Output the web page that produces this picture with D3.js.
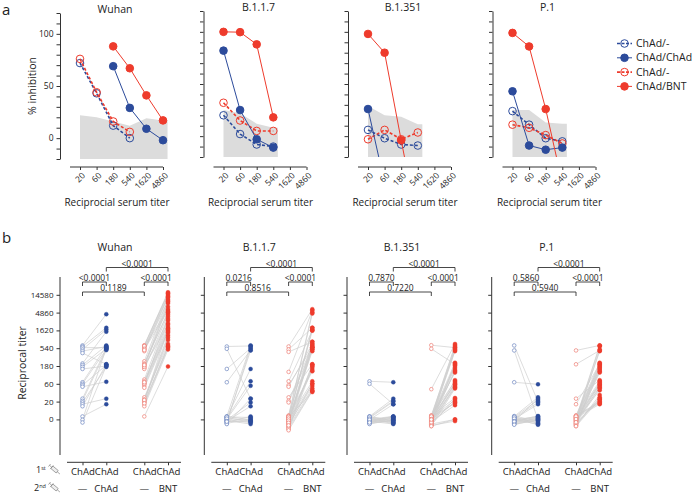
<!DOCTYPE html>
<html><head><meta charset="utf-8">
<script src="https://cdn.jsdelivr.net/npm/d3@7"></script>
<style>body{margin:0;background:#fff}svg text{font-family:'Open Sans',sans-serif;fill:#222}</style>
</head><body>
<svg id="c" width="692" height="495"></svg>
<script>
// ---------------- DATA ----------------
const variants = ["Wuhan","B.1.1.7","B.1.351","P.1"];
const aTiters = [20,60,180,540,1620,4860];
const aTitersLow = [20,60,180,540];
const aTitersHigh = [180,540,1620,4860];
const legendLabels = ["ChAd/-","ChAd/ChAd","ChAd/-","ChAd/BNT"];

// panel a: % inhibition
const aWuhanChAdBlue = [72,43,12,0];
const aWuhanChAdChAd = [69,29,9,-2];
const aWuhanChAdRed  = [76,44,16,6];
const aWuhanChAdBNT  = [88,67,41,17];
const aWuhanGray     = [22,20,16,12,19,17];

const aB117ChAdBlue = [20,2,-8,-10];
const aB117ChAdChAd = [82,25,-3,-11];
const aB117ChAdRed  = [32,15,5,5];
const aB117ChAdBNT  = [100,99.7,88,18];
const aB117Gray     = [25,22,12,8];

const aB1351ChAdBlue = [6,-2,-8,-9];
const aB1351ChAdChAd = [26,-45];
const aB1351ChAdRed  = [-3,6,-3,3.5];
const aB1351ChAdBNT  = [98,80,-4,-85];
const aB1351Gray     = [29,20,18.5,11.5];

const aP1ChAdBlue = [24,11,-2,-5];
const aP1ChAdChAd = [43,-9,-13,-11];
const aP1ChAdRed  = [11,8,1,-7];
const aP1ChAdBNT  = [99,86,26,-45];
const aP1Gray     = [25,25,13,12];

// panel b: reciprocal titers (values below 20 = below detection "0")
const bTickVals = [20/3,20,60,180,540,1620,4860,14580];
const bTickLabels = ["0","20","60","180","540","1620","4860","14580"];
const bGroups = ["ChAd-","ChAdChAd","ChAd-r","ChAdBNT"];

const bWuhanCC1 = [640,600,560,500,450,400,210,190,170,150,66,60,55,50,24,21,19,17,15,8,6.5,5.5];
const bWuhanCC2 = [4400,1900,560,1700,600,200,1500,640,520,180,600,500,190,68,540,480,170,24,200,17,560,180];
const bWuhanCB1 = [650,620,580,540,500,450,240,210,190,175,160,150,78,70,64,58,52,47,26,23,21,19,17,15,8,620,520,200,60,20,170,480,22,66,18,190];
const bWuhanCB2 = [17000,15500,6000,14000,5400,12500,11000,4860,9500,2300,8600,4300,3800,2000,1800,3300,1620,1400,700,1200,1050,620,560,500,175,16000,13000,5000,1500,1800,3000,10000,900,2500,600,7000];

const bB117CC1 = [600,520,150,66,8,7.6,7.2,6.8,6.4,6,5.6,5.2,8,7.4,6.6,6.2,5.4,5,7.8,7,6,5.8];
const bB117CC2 = [620,24,540,480,640,150,70,53,19,15,8,7,6.5,6,5.5,5,580,24,7.5,6.2,470,5.8];
const bB117CB1 = [600,500,430,125,70,55,50,26,21,19,8.5,8,7.6,7.2,6.8,6.4,6,5.6,5.2,4.8,4.4,4,3.6,8.2,7.4,6.6,5.8,5,4.2,3.8,7.8,7,6.2,5.4,4.6,3.4];
const bB117CB2 = [6000,1900,800,5500,1600,560,700,200,620,500,5000,4600,1750,1600,450,800,700,620,560,500,200,180,160,140,130,70,60,52,45,40,36,1900,560,180,60,38];

const bB1351CC1 = [70,60,8,7.6,7.2,6.8,6.4,6,5.6,5.2,8,7.4,6.6,6.2,5.4,5,7.8,7,6,5.8,6.5,5.5];
const bB1351CC2 = [66,17,24,21,20,8,7.6,7.2,6.8,6.4,6,5.6,5.2,8,7.4,6.6,6.2,5.4,5,7.8,17,6];
const bB1351CB1 = [650,520,43,8.5,8,7.6,7.2,6.8,6.4,6,5.6,5.2,4.8,4.4,8.2,7.4,6.6,5.8,5,4.6,7.8,7,6.2,5.4,8.4,7.2,6,4.8,7.6,6.4,5.2,8,6.8,5.6,4.4,6.6];
const bB1351CB2 = [560,200,700,600,500,220,190,160,130,75,65,55,50,45,25,22,19,16,6.67,6.0,650,550,180,140,70,60,48,24,18,450,210,120,58,20,6.67,480];

const bP1CC1 = [640,470,66,8,7.6,7.2,6.8,6.4,6,5.6,5.2,8.2,7.4,6.6,6.2,5.4,5,7.8,7,6,5.8,4.8];
const bP1CC2 = [20,6.5,58,26,22,19,17,8,7.5,7,6.5,6,5.5,5,8.2,7.2,6.2,5.2,4.8,24,7.8,6.8];
const bP1CB1 = [470,200,24,17,8.5,8,7.6,7.2,6.8,6.4,6,5.6,5.2,4.8,4.4,8.2,7.4,6.6,5.8,5,4.6,7.8,7,6.2,5.4,8.4,7.2,6,4.8,7.6,6.4,5.2,8,6.8,5.6,4.4];
const bP1CB2 = [640,470,75,200,220,190,170,150,130,65,58,50,45,26,23,20,17,600,500,180,140,70,55,48,24,19,640,210,160,60,40,22,18,450,120,30];

const pTop   = ["<0.0001","<0.0001","<0.0001","<0.0001"];
const pLeft  = ["<0.0001","0.0216","0.7870","0.5860"];
const pRight = ["<0.0001","<0.0001","<0.0001","<0.0001"];
const pLong  = ["0.1189","0.8516","0.7220","0.5940"];

// ---------------- DRAW ----------------
const svg = d3.select("#c");
const defs = svg.append("defs");
const BLUE="#2c4b9b", RED="#ee3b2c", BLUE_L="#6f86c0", RED_L="#ee7d72", GRAYA="#dcdcdc", AX="#333";

svg.append("text").attr("x",2).attr("y",15).attr("font-size",15).text("a");
svg.append("text").attr("x",2).attr("y",243).attr("font-size",15).text("b");

const aAxisX=[60,203.5,348,492.5], aDy=[0,-2,-2,-2];
const aSeriesAll = [
  [aWuhanChAdBlue,aWuhanChAdChAd,aWuhanChAdRed,aWuhanChAdBNT,aWuhanGray,true],
  [aB117ChAdBlue,aB117ChAdChAd,aB117ChAdRed,aB117ChAdBNT,aB117Gray,false],
  [aB1351ChAdBlue,aB1351ChAdChAd,aB1351ChAdRed,aB1351ChAdBNT,aB1351Gray,false],
  [aP1ChAdBlue,aP1ChAdChAd,aP1ChAdRed,aP1ChAdBNT,aP1Gray,false]
];

function styleAxis(g){
  g.selectAll("path,line").attr("stroke",AX).attr("stroke-width",1);
  g.selectAll("text").attr("fill","#222").style("font-family","'Open Sans',sans-serif");
}

aSeriesAll.forEach((s,i)=>{
  const [blueO,blueF,redO,redF,gray,wuhan]=s;
  const ax=aAxisX[i], dy=aDy[i];
  const g=svg.append("g");
  const y=d3.scaleLinear().domain([-20,120]).range([159+dy,13+dy]);
  const x=d3.scaleLog().base(3).domain([20,4860]).range([ax+20,ax+103]);
  defs.append("clipPath").attr("id","clipA"+i).append("rect")
    .attr("x",ax).attr("y",y(120)).attr("width",125).attr("height",y(-20)-y(120));
  const gT = (wuhan?aTiters:aTitersLow);
  const gd = gT.map((t,k)=>[t,gray[k]]);
  gd.push([gT[gT.length-1]*1.35, gray[gray.length-1]]);
  g.append("path").datum(gd).attr("fill",GRAYA)
    .attr("d",d3.area().x(d=>x(d[0])).y0(y(-20)).y1(d=>y(d[1])));
  const ya=g.append("g").attr("transform",`translate(${ax},0)`)
    .call(d3.axisLeft(y).tickValues(d3.range(-20,121,10))
      .tickFormat(d=>(i===0&&[0,50,100].includes(d))?d:"").tickSize(3.5).tickSizeOuter(0).tickPadding(3));
  ya.selectAll("text").attr("font-size",8.5);
  styleAxis(ya);
  const xa=g.append("g").attr("transform",`translate(0,167)`)
    .call(d3.axisBottom(x).tickValues(aTiters).tickFormat(d3.format("d")).tickSize(3).tickSizeOuter(0));
  xa.select(".domain").remove();
  xa.append("line").attr("x1",ax+10).attr("x2",x(4860));
  xa.selectAll("text").attr("text-anchor","end").attr("x",0).attr("y",0).attr("dy","0.35em")
    .attr("font-size",8.5).attr("transform","translate(3,7) rotate(-45)");
  styleAxis(xa);
  g.append("text").attr("x",ax+55).attr("y",13+dy).attr("text-anchor","middle").attr("font-size",10.5).text(variants[i]);
  g.append("text").attr("x",ax+57).attr("y",206).attr("text-anchor","middle").attr("font-size",10).text("Reciprocial serum titer");
  const pg=g.append("g").attr("clip-path",`url(#clipA${i})`);
  const specs=[
    [aTitersLow, blueO, BLUE, true],
    [aTitersLow, redO, RED, true],
    [wuhan?aTitersHigh:aTitersLow, blueF, BLUE, false],
    [wuhan?aTitersHigh:aTitersLow, redF, RED, false]
  ];
  const line=d3.line().x(d=>x(d[0])).y(d=>y(d[1]));
  specs.forEach(([ts,vs,col,open])=>{
    const d=vs.map((v,k)=>[ts[k],v]);
    pg.append("path").datum(d).attr("fill","none").attr("stroke",col)
      .attr("stroke-width",open?1.6:1).attr("stroke-dasharray",open?"3,2":null).attr("d",line);
    pg.selectAll(null).data(d).enter().append("circle")
      .attr("cx",p=>x(p[0])).attr("cy",p=>y(p[1])).attr("r",3.8)
      .attr("fill",open?"none":col).attr("stroke",col).attr("stroke-width",1);
  });
});
svg.append("text").attr("transform","translate(36,86) rotate(-90)").attr("text-anchor","middle")
  .attr("font-size",10.5).text("% inhibition");

const lgCols=[BLUE,BLUE,RED,RED], lgOpen=[true,false,true,false];
legendLabels.forEach((lab,k)=>{
  const yy=43.5+k*14.3;
  const lg=svg.append("g");
  lg.append("line").attr("x1",617).attr("x2",632).attr("y1",yy).attr("y2",yy).attr("stroke",lgCols[k])
    .attr("stroke-width",lgOpen[k]?1.6:1).attr("stroke-dasharray",lgOpen[k]?"3,1.5":null);
  lg.append("circle").attr("cx",624.5).attr("cy",yy).attr("r",3.8).attr("fill",lgOpen[k]?"none":lgCols[k]).attr("stroke",lgCols[k]);
  lg.append("text").attr("x",636).attr("y",yy).attr("dy","0.35em").attr("font-size",10.5).text(lab);
});

// ---------- panel b ----------
const bAxisX=[60,204.3,347,491.7];
const colOff=[22.5,46.3,84.3,108];
const bData=[
  [bWuhanCC1,bWuhanCC2,bWuhanCB1,bWuhanCB2],
  [bB117CC1,bB117CC2,bB117CB1,bB117CB2],
  [bB1351CC1,bB1351CC2,bB1351CB1,bB1351CB2],
  [bP1CC1,bP1CC2,bP1CB1,bP1CB2]
];
bData.forEach((dd,i)=>{
  const [cc1,cc2,cb1,cb2]=dd;
  const ax=bAxisX[i];
  const g=svg.append("g");
  const y=d3.scaleLog().domain([20/27,43740]).range([455,277]);
  const x=d3.scaleOrdinal().domain(bGroups).range(colOff.map(o=>ax+o));
  const ya=g.append("g").attr("transform",`translate(${ax},0)`)
    .call(d3.axisLeft(y).tickValues(bTickVals).tickFormat((d,k)=>i===0?bTickLabels[k]:"").tickSize(3.5).tickSizeOuter(0).tickPadding(3));
  ya.select(".domain").attr("d","M0,277V455");
  ya.selectAll("text").attr("font-size",8);
  styleAxis(ya);
  const xa=g.append("g").attr("transform","translate(0,462.3)")
    .call(d3.axisBottom(x).tickFormat(()=> "ChAd").tickSize(3).tickPadding(3));
  xa.select(".domain").remove();
  xa.append("line").attr("x1",ax+7).attr("x2",ax+121);
  xa.selectAll("text").attr("font-size",9.6);
  styleAxis(xa);
  [["—",0],["ChAd",1],["—",2],["BNT",3]].forEach(([t,k])=>{
    g.append("text").attr("x",x(bGroups[k])).attr("y",492).attr("text-anchor","middle").attr("font-size",9.6).text(t);
  });
  g.append("text").attr("x",ax+55).attr("y",251).attr("text-anchor","middle").attr("font-size",10.5).text(variants[i]);
  const lines=g.append("g").attr("stroke","#cfcfcf").attr("stroke-width",0.7);
  const pairs=[[cc1,cc2,0,1],[cb1,cb2,2,3]];
  pairs.forEach(([a,b,c1,c2])=>{
    lines.selectAll(null).data(a.map((v,k)=>[v,b[k]])).enter().append("line")
      .attr("x1",x(bGroups[c1])).attr("x2",x(bGroups[c2]))
      .attr("y1",d=>y(d[0])).attr("y2",d=>y(d[1]));
  });
  const pts=[[cc1,0,BLUE_L,true],[cc2,1,BLUE,false],[cb1,2,RED_L,true],[cb2,3,RED,false]];
  pts.forEach(([vals,c,col,open])=>{
    g.selectAll(null).data(vals).enter().append("circle")
      .attr("cx",x(bGroups[c])).attr("cy",d=>y(d)).attr("r",open?1.8:2)
      .attr("fill",open?"#fff":col).attr("stroke",col).attr("stroke-width",open?0.7:0.4);
  });
  const br=(c1,c2,yy,txt)=>{
    const x1=x(bGroups[c1]), x2=x(bGroups[c2]);
    g.append("path").attr("fill","none").attr("stroke","#333").attr("stroke-width",0.9)
      .attr("d",`M${x1},${yy+4}V${yy}H${x2}V${yy+4}`);
    g.append("text").attr("x",(x1+x2)/2).attr("y",yy-1).attr("text-anchor","middle").attr("font-size",8.5).text(txt);
  };
  br(1,3,267.5,pTop[i]);
  br(0,1,282,pLeft[i]);
  br(2,3,282,pRight[i]);
  br(0,2,292,pLong[i]);
});
svg.append("text").attr("transform","translate(26,363) rotate(-90)").attr("text-anchor","middle")
  .attr("font-size",10.5).text("Reciprocal titer");

function syringe(cx,cy){
  const s=svg.append("g").attr("transform",`translate(${cx},${cy}) rotate(40)`)
    .attr("fill","none").attr("stroke","#888").attr("stroke-width",0.7);
  s.append("rect").attr("x",-3.5).attr("y",-1.6).attr("width",7).attr("height",3.2).attr("fill","#eee");
  s.append("line").attr("x1",-6.5).attr("x2",-3.5).attr("y1",0).attr("y2",0);
  s.append("line").attr("x1",-6.5).attr("x2",-6.5).attr("y1",-1.6).attr("y2",1.6);
  s.append("line").attr("x1",-3.5).attr("x2",-3.5).attr("y1",-2.4).attr("y2",2.4);
  s.append("line").attr("x1",3.5).attr("x2",7).attr("y1",0).attr("y2",0);
}
const d1=svg.append("text").attr("x",36).attr("y",473).attr("font-size",9);
d1.append("tspan").text("1");
d1.append("tspan").attr("font-size",5.5).attr("dy",-3).text("st");
const d2=svg.append("text").attr("x",34).attr("y",490.5).attr("font-size",9);
d2.append("tspan").text("2");
d2.append("tspan").attr("font-size",5.5).attr("dy",-3).text("nd");
syringe(54.5,469.5);
syringe(54.5,487.5);
</script>
</body></html>
